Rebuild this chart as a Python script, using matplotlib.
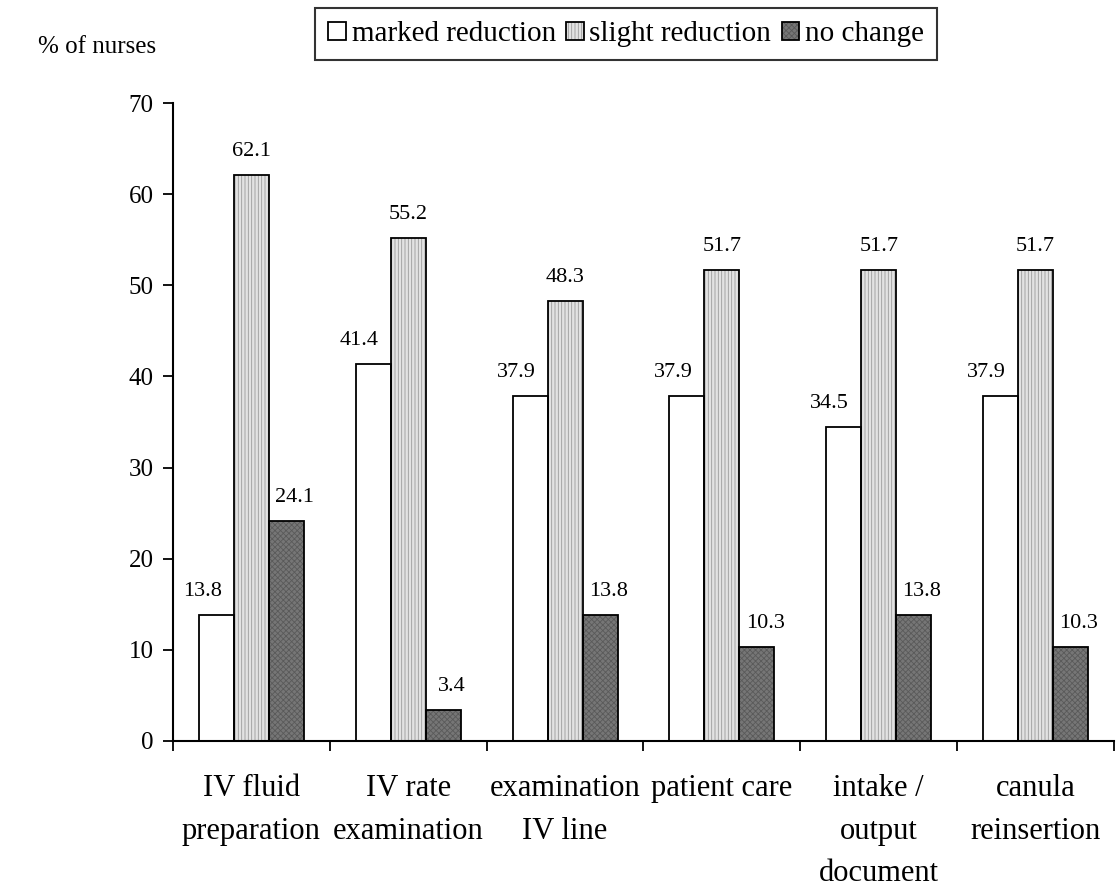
import matplotlib
matplotlib.use("Agg")
import matplotlib.pyplot as plt
import numpy as np
from matplotlib.legend_handler import HandlerTuple

plt.rcParams['font.family'] = ['Liberation Serif', 'DejaVu Serif']
plt.rcParams['hatch.linewidth'] = 0.6

# Données
categories = ["IV fluid\npreparation", "IV rate\nexamination", "examination\nIV line",
              "patient care", "intake /\noutput\ndocument", "canula\nreinsertion"]
series_names = ["marked reduction", "slight reduction", "no change"]
marked = [13.8, 41.4, 37.9, 37.9, 34.5, 37.9]
slight = [62.1, 55.2, 48.3, 51.7, 51.7, 51.7]
no_change = [24.1, 3.4, 13.8, 10.3, 13.8, 10.3]

# styles : (couleur de fond, hachure, couleur de hachure, décalage étiquette)
styles = [("white", "", "white", -10),
          ("#e2e2e2", "|||||", "#9a9a9a", 0),
          ("#767676", "xxxxxx", "#5a5a5a", 6)]

fig = plt.figure(figsize=(11.18, 8.89), dpi=100)
ax = fig.add_axes([0.1547, 0.1665, 0.9964 - 0.1547, 0.8841 - 0.1665])

x = np.arange(len(categories)) + 0.5
w = 0.223
handles = []
for k, vals in enumerate([marked, slight, no_change]):
    fc, hatch, hc, dx = styles[k]
    pos = x + (k - 1) * w
    b1 = ax.bar(pos, vals, w, color=fc, hatch=hatch, edgecolor=hc, linewidth=0, zorder=2)
    b2 = ax.bar(pos, vals, w, fill=False, edgecolor="black", linewidth=1.3, zorder=3)
    handles.append((b1[0], b2[0]))
    for xi, v in zip(pos, vals):
        ax.annotate(f"{v:.1f}", (xi, v), xytext=(dx, 10), textcoords="offset points",
                    ha="center", va="bottom", fontsize=16)

ax.set_xlim(0, 6)
ax.set_ylim(0, 70)
ax.set_yticks(range(0, 71, 10))
ax.set_xticks(x)
ax.set_xticklabels(categories, fontsize=22, linespacing=1.6, va="top")
ax.set_xticks(np.arange(0, 7), minor=True)
ax.tick_params(axis="x", which="major", length=0, pad=24)
ax.tick_params(axis="x", which="minor", length=7, width=1.3, direction="out")
ax.tick_params(axis="y", length=7, width=1.3, pad=7, labelsize=18)
for s in ["top", "right"]:
    ax.spines[s].set_visible(False)
for s in ["left", "bottom"]:
    ax.spines[s].set_linewidth(1.5)

fig.text(38 / 1118, 1 - 47 / 889, "% of nurses", fontsize=18, va="center", ha="left")

leg = fig.legend(handles, series_names, loc="upper center", bbox_to_anchor=(0.56, 0.991),
                 ncol=3, fontsize=21, frameon=True, fancybox=False,
                 handlelength=0.6, handleheight=0.6, handletextpad=0.2,
                 columnspacing=0.35, borderpad=0.45, borderaxespad=0,
                 handler_map={tuple: HandlerTuple(ndivide=1, pad=0)})
leg.get_frame().set_edgecolor("black")
leg.get_frame().set_linewidth(1.5)

fig.savefig("out.png", dpi=100)
